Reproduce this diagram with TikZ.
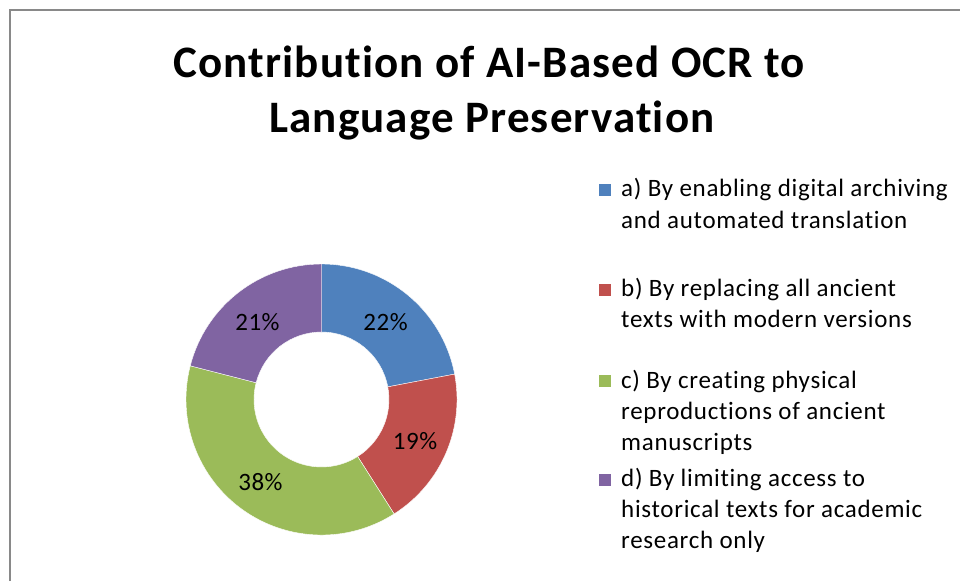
\documentclass[tikz,border=0pt]{standalone}
\usepackage{fontspec}
\setmainfont[Ligatures=CommonOff]{Carlito}
\newfontfamily\ttlfont[LetterSpace=2.6, Ligatures=CommonOff]{Carlito}
\newfontfamily\legfont[LetterSpace=2.8, Ligatures=CommonOff]{Carlito}
\newfontfamily\pctfont[LetterSpace=2.0, Ligatures=CommonOff]{Carlito}
\usetikzlibrary{calc}
\definecolor{cblue}{HTML}{4F81BD}
\definecolor{cred}{HTML}{C0504D}
\definecolor{cgreen}{HTML}{9BBB59}
\definecolor{cpurple}{HTML}{8064A2}
\definecolor{frame}{HTML}{898989}
\tikzset{
  pct/.style={anchor=base, inner sep=0pt, font=\pctfont\fontsize{25}{30}\selectfont},
  legtxt/.style={anchor=base west, inner sep=0pt, font=\legfont\fontsize{25}{30}\selectfont},
  legkey/.style={minimum size=12pt, inner sep=0pt, draw=none},
  ttl/.style={anchor=base, inner sep=0pt, font=\ttlfont\fontsize{45}{55}\selectfont\bfseries}
}
\newcommand{\donutslice}[3]{%
  \fill[#3, draw=white, line width=0.4pt] ($(c)+(#1:135.5)$) arc[start angle=#1, end angle=#2, radius=135.5]
    -- ($(c)+(#2:67.5)$) arc[start angle=#2, end angle=#1, radius=67.5] -- cycle;}
\begin{document}
\begin{tikzpicture}[x=1pt,y=-1pt]
\useasboundingbox (0,0) rectangle (960,581);
\fill[white] (0,0) rectangle (960,581);
\draw[frame, line width=2pt] (10,581) -- (10,10) -- (960,10);
% title
\node[ttl] (t1) at (489,77) {Contribution of AI-Based OCR to};
\node[ttl] (t2) at (492,132) {Language Preservation};
% donut
\coordinate (c) at (321.5,399.5);
\donutslice{-90}{-10.8}{cblue}
\donutslice{-10.8}{57.6}{cred}
\donutslice{57.6}{194.4}{cgreen}
\donutslice{194.4}{270}{cpurple}
\node[pct] (pa) at (385.5,330) {22\%};
\node[pct] (pb) at (415,449) {19\%};
\node[pct] (pc) at (260.5,490) {38\%};
\node[pct] (pd) at (257.5,330) {21\%};
% legend
\node[legkey, fill=cblue] (ka) at (605,190) {};
\node[legtxt] (la1) at (621,196.7) {a) By enabling digital archiving};
\node[legtxt] (la2) at (621,228) {and automated translation};
\node[legkey, fill=cred] (kb) at (605,289.5) {};
\node[legtxt] (lb1) at (621,296.7) {b) By replacing all ancient};
\node[legtxt] (lb2) at (621,327) {texts with modern versions};
\node[legkey, fill=cgreen] (kc) at (605,381) {};
\node[legtxt] (lc1) at (621,388) {c) By creating physical};
\node[legtxt] (lc2) at (621,419) {reproductions of ancient};
\node[legtxt] (lc3) at (621,450) {manuscripts};
\node[legkey, fill=cpurple] (kd) at (605,479.5) {};
\node[legtxt] (ld1) at (621,486.7) {d) By limiting access to};
\node[legtxt] (ld2) at (621,517) {historical texts for academic};
\node[legtxt] (ld3) at (621,548) {research only};
\end{tikzpicture}
\end{document}
